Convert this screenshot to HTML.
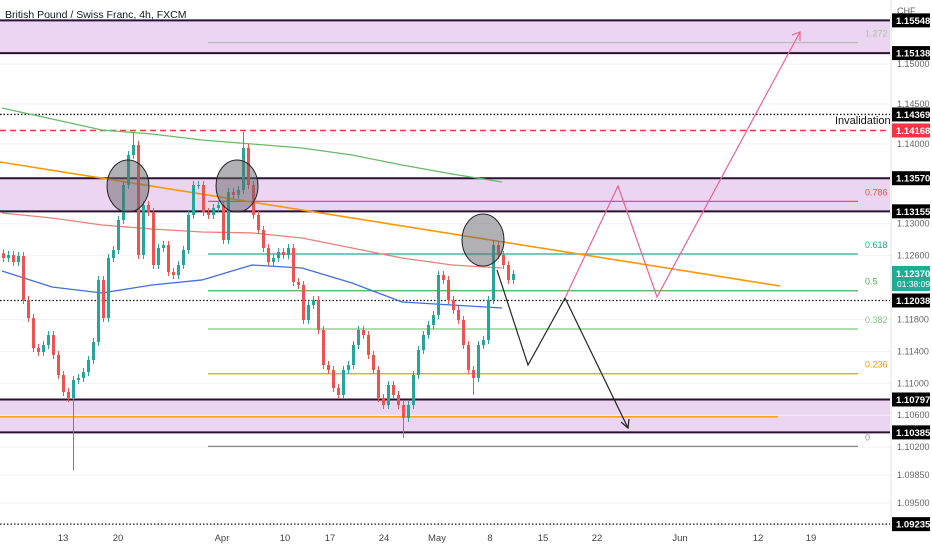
<!DOCTYPE html>
<html><head><meta charset="utf-8"><style>
body{margin:0;background:#fff;font-family:"Liberation Sans",sans-serif}
svg{display:block}
</style></head><body>
<svg id="c" width="932" height="550" xmlns="http://www.w3.org/2000/svg"></svg>
<script>
const closes=[1.12570,1.12608,1.12520,1.12595,1.12044,1.11818,1.11442,1.11392,1.11480,1.11605,1.11355,1.11104,1.10891,1.10816,1.11041,1.11067,1.11142,1.11292,1.11518,1.12295,1.11818,1.12570,1.12670,1.13046,1.13485,1.13861,1.13986,1.12608,1.13234,1.13147,1.12482,1.12696,1.12733,1.12395,1.12357,1.12482,1.12670,1.13109,1.13485,1.13485,1.13147,1.13109,1.13197,1.13234,1.12796,1.13397,1.13360,1.13422,1.13949,1.13485,1.13109,1.12921,1.12696,1.12520,1.12570,1.12645,1.12608,1.12696,1.12270,1.12232,1.11793,1.11981,1.12044,1.11668,1.11229,1.11167,1.10941,1.10854,1.11167,1.11229,1.11480,1.11668,1.11605,1.11355,1.11167,1.10816,1.10728,1.10979,1.10854,1.10728,1.10565,1.10728,1.11104,1.11417,1.11605,1.11731,1.11856,1.12357,1.12295,1.12044,1.11919,1.11793,1.11480,1.11167,1.11067,1.11480,1.11543,1.12044,1.12733,1.12608,1.12482,1.12295,1.12370];
const spikeIdx=[14,26,48,80,94,98];
const spikePrice=[1.09914,1.14137,1.14149,1.10315,1.10854,1.12796];
const maIdx=[0,10,20,30,40,50,60,70,80,90,100];
const maGreen=[1.14450,1.14312,1.14174,1.14124,1.14049,1.13999,1.13949,1.13861,1.13736,1.13623,1.13523];
const maRed=[1.13134,1.13071,1.12984,1.12934,1.12896,1.12884,1.12821,1.12696,1.12570,1.12482,1.12445];
const maBlue=[1.12407,1.12207,1.12132,1.12232,1.12295,1.12482,1.12445,1.12257,1.12019,1.11981,1.11944];
const axisTicks=["1.15000","1.14500","1.14000","1.13000","1.12600","1.11800","1.11400","1.11000","1.10600","1.10200","1.09850","1.09500"];
const zones=[[1.15548,1.15138],[1.13570,1.13155],[1.10797,1.10385]];
const fibLabels=["1.272","0.786","0.618","0.5","0.382","0.236","0"];
const fibPrices=[1.15270,1.13280,1.12620,1.12160,1.11680,1.11120,1.10210];
const fibColors=["#b8b8b8","#ef5350","#26a69a","#4caf50","#81c784","#ff9800","#888"];
const fibTextColors=["#9ccc9c","#ef5350","#26a69a","#4caf50","#81c784","#ff9800","#999"];
const dateLabels=["13","20","Apr","10","17","24","May","8","15","22","Jun","12","19"];
const dateX=[63,118,222,285,330,384,437,490,543,597,680,758,811];
const tagPrices=[1.15548,1.15138,1.14369,1.14168,1.13570,1.13155,1.12038,1.10797,1.10385,1.09235];

const Y=p=>104+(1.145-p)*7980;
const X=i=>2+i*5;
const S="http://www.w3.org/2000/svg",svg=document.getElementById('c');
function el(t,a,par){const e=document.createElementNS(S,t);for(const k in a)e.setAttribute(k,a[k]);(par||svg).appendChild(e);return e;}
const W=890;
zones.forEach((z,i)=>{const g=el('g',{});


el('rect',{x:0,y:Y(z[0]),width:W,height:Y(z[1])-Y(z[0]),fill:'#ecd5f0'},g);
el('line',{x1:0,x2:W,y1:Y(z[0]),y2:Y(z[0]),stroke:'#2a1033','stroke-width':2},g);
el('line',{x1:0,x2:W,y1:Y(z[1]),y2:Y(z[1]),stroke:'#2a1033','stroke-width':2},g);});
axisTicks.forEach(t=>{const l=el('line',{x1:0,x2:W,y1:Y(+t),y2:Y(+t),stroke:'#f3f3f3'});});
let l=el('line',{x1:0,x2:W,y1:Y(1.14369),y2:Y(1.14369),stroke:'#111','stroke-dasharray':'1.5 2','stroke-width':1.3});

l=el('line',{x1:0,x2:W,y1:Y(1.14168),y2:Y(1.14168),stroke:'#f23645','stroke-dasharray':'6 4','stroke-width':1.5});

l=el('line',{x1:0,x2:W,y1:Y(1.12038),y2:Y(1.12038),stroke:'#111','stroke-dasharray':'1.5 2','stroke-width':1.3});

l=el('line',{x1:0,x2:W,y1:Y(1.09235),y2:Y(1.09235),stroke:'#111','stroke-dasharray':'1.5 2','stroke-width':1.3});

l=el('line',{x1:0,x2:778,y1:Y(1.10580),y2:Y(1.10580),stroke:'#ff9800','stroke-width':1.3});

fibPrices.forEach((p,i)=>{const g=el('g',{});


el('line',{x1:208,x2:858,y1:Y(p),y2:Y(p),stroke:fibColors[i],'stroke-width':1.2},g);
const t=el('text',{x:865,y:Y(p)-6,fill:fibTextColors[i],'font-size':9},g);t.textContent=fibLabels[i];});
function ma(arr,c,name){const pts=arr.map((v,i)=>X(maIdx[i])+','+Y(v)).join(' ');const p=el('polyline',{points:pts,fill:'none',stroke:c,'stroke-width':1.3});}
ma(maGreen,'#66bb6a','ma-green');ma(maRed,'#ef7f7a','ma-red');ma(maBlue,'#3f6fe0','ma-blue');
l=el('line',{x1:0,y1:162,x2:780,y2:286,stroke:'#ff9800','stroke-width':1.6});

closes.forEach((c,i)=>{const o=i?closes[i-1]:c+0.0006;const up=c>=o;
let h=Math.max(o,c)+0.0005,lo=Math.min(o,c)-0.0005;
const k=spikeIdx.indexOf(i);if(k>=0){if(spikePrice[k]>Math.max(o,c))h=spikePrice[k];else lo=spikePrice[k];}
const col=up?'#26a69a':'#ef5350';const g=el('g',{});


el('line',{x1:X(i)+1.5,x2:X(i)+1.5,y1:Y(h),y2:Y(lo),stroke:col,'stroke-width':1},g);
el('rect',{x:X(i),y:Math.min(Y(o),Y(c)),width:3,height:Math.max(1,Math.abs(Y(o)-Y(c))),fill:col},g);});
[[128,186],[237,186],[483,240]].forEach(q=>{const e=el('ellipse',{cx:q[0],cy:q[1],rx:21,ry:26,fill:'rgba(100,100,105,0.5)',stroke:'#222','stroke-width':1});});
l=el('polyline',{points:'497,270 528,365 565,298 628,428',fill:'none',stroke:'#222','stroke-width':1.2});

l=el('polyline',{points:'621,422 628,428 629,419',fill:'none',stroke:'#222','stroke-width':1.2});

l=el('polyline',{points:'565,298 618,186 657,297 800,32',fill:'none',stroke:'#f06292','stroke-width':1.2});

l=el('polyline',{points:'792,35 800,32 800,41',fill:'none',stroke:'#f06292','stroke-width':1.2});

let t=el('text',{x:835,y:124,'font-size':11,fill:'#111'});t.textContent='Invalidation';

t=el('text',{x:5,y:18,'font-size':10.5,fill:'#131722'});t.textContent='British Pound / Swiss Franc, 4h, FXCM';

l=el('rect',{x:891,y:0,width:41,height:550,fill:'#fff'});
l=el('line',{x1:891,x2:891,y1:0,y2:528,stroke:'#e0e0e0'});
t=el('text',{x:897,y:14,'font-size':9,fill:'#666'});t.textContent='CHF';
axisTicks.forEach(v=>{const e=el('text',{x:897,y:Y(+v)+3,'font-size':9,fill:'#666'});e.textContent=v;});
tagPrices.forEach(p=>{const g=el('g',{});
el('rect',{x:892,y:Y(p)-7,width:38,height:14,fill:p===1.14168?'#f23645':'#000'},g);
const e=el('text',{x:896,y:Y(p)+3.5,'font-size':9.5,fill:'#fff','font-weight':'bold'},g);e.textContent=p.toFixed(5);});
const last=closes[closes.length-1];
const g=el('g',{});
el('rect',{x:892,y:Y(last)-8,width:38,height:25,fill:'#22ab94'},g);
let e=el('text',{x:896,y:Y(last)+3,'font-size':9.5,fill:'#fff','font-weight':'bold'},g);e.textContent=last.toFixed(5);
e=el('text',{x:897,y:Y(last)+13,'font-size':8.5,fill:'#fff'},g);e.textContent='01:38:09';
dateLabels.forEach((d,i)=>{const e=el('text',{x:dateX[i],y:541,'font-size':9.5,fill:'#444','text-anchor':'middle'});e.textContent=d;});
</script>
</body></html>
